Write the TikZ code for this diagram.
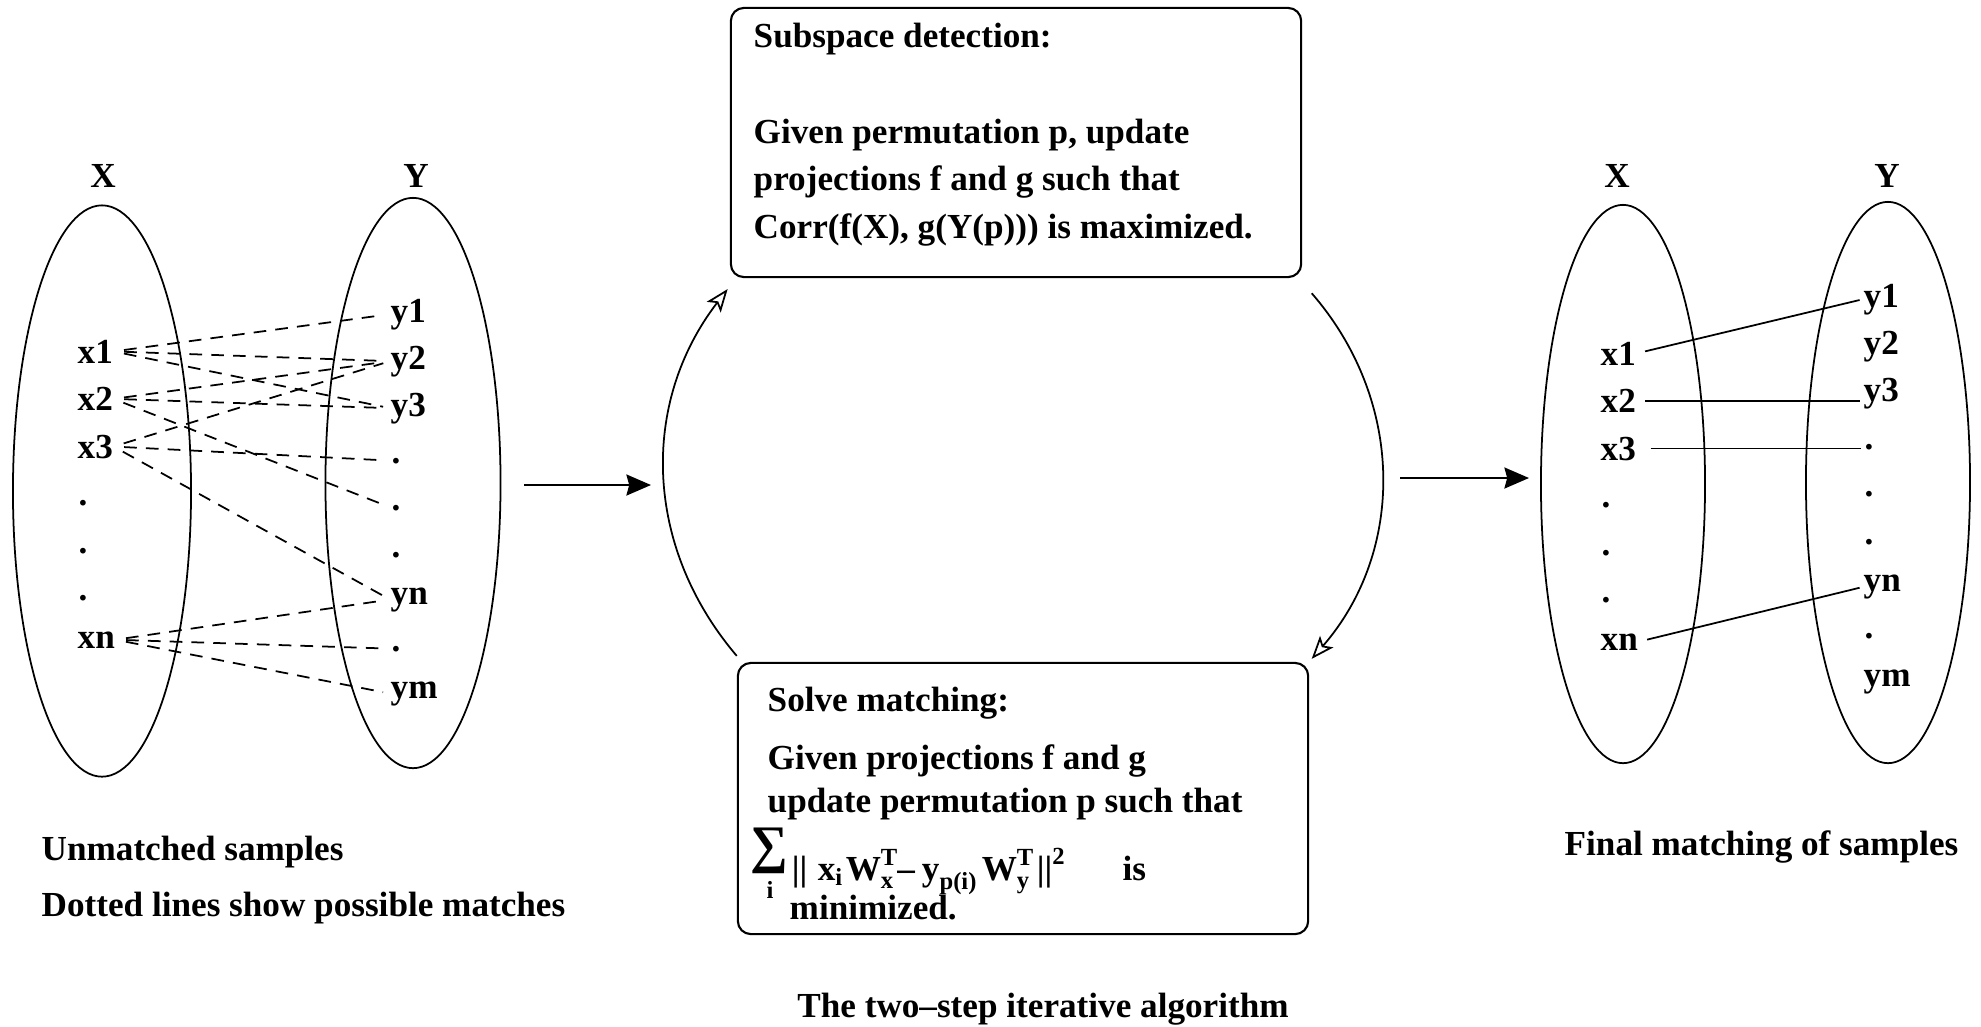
\documentclass[tikz,border=0pt]{standalone}
\usepackage{amsmath}
\usepackage{fontspec}
\setmainfont{Liberation Serif}
\usetikzlibrary{arrows.meta,shapes.geometric}
\begin{document}
\begin{tikzpicture}[x=0.01cm,y=0.01cm,
  txt/.style={font=\fontsize{10}{13.5}\selectfont\bfseries, inner sep=0pt},
  lbl/.style={txt, anchor=base west},
  hdr/.style={txt, anchor=base},
  setellipse/.style={draw, ellipse, line width=0.5pt, inner sep=0pt},
  roundbox/.style={draw, rounded corners=3.7pt, line width=0.6pt, inner sep=0pt},
  posline/.style={line width=0.5pt, dash pattern=on 3.6pt off 2.6pt, shorten <=3pt, shorten >=2pt},
  matchline/.style={line width=0.5pt, shorten <=2.5pt, shorten >=1pt},
  flowarrow/.style={line width=0.5pt, -{Stealth[length=7pt,width=6pt,inset=0.8pt]}},
  looparrow/.style={line width=0.5pt, -{Stealth[open,length=6.5pt,width=5pt,inset=1.5pt]}}
]
\useasboundingbox (0,0) rectangle (1981,-1026);

% ---------------- left panel: unmatched samples ----------------
\node[setellipse, minimum width=1.78cm, minimum height=5.71cm] (LX) at (102,-491) {};
\node[setellipse, minimum width=1.75cm, minimum height=5.70cm] (LY) at (413,-483) {};
\node[hdr] (LXh) at (103,-187) {X};
\node[hdr] (LYh) at (416,-187) {Y};
\node[lbl] (lx1) at (77,-363) {x1};
\node[lbl] (lx2) at (77,-410.5) {x2};
\node[lbl] (lx3) at (77,-458) {x3};
\node[lbl] (lxd1) at (78,-505.5) {.};
\node[lbl] (lxd2) at (78,-553) {.};
\node[lbl] (lxd3) at (78,-600.5) {.};
\node[lbl] (lxn) at (77,-648) {xn};
\node[lbl] (ly1) at (390,-322) {y1};
\node[lbl] (ly2) at (390,-369) {y2};
\node[lbl] (ly3) at (390,-416) {y3};
\node[lbl] (lyd4) at (391,-463) {.};
\node[lbl] (lyd5) at (391,-510) {.};
\node[lbl] (lyd6) at (391,-557) {.};
\node[lbl] (lyn) at (390,-604) {yn};
\node[lbl] (lyd7) at (391,-651) {.};
\node[lbl] (lym) at (390,-698) {ym};
\foreach \a/\b in {lx1/ly1, lx1/ly2, lx1/ly3, lx2/ly2, lx2/ly3, lx2/lyd5,
                   lx3/ly2, lx3/lyd4, lx3/lyn, lxn/lyn, lxn/lyd7, lxn/lym}
  \draw[posline] (\a.east) -- (\b.west);
\node[lbl] (cap1) at (41,-860) {Unmatched samples};
\node[lbl] (cap2) at (41,-916) {Dotted lines show possible matches};

% ---------------- right panel: final matching ----------------
\node[setellipse, minimum width=1.64cm, minimum height=5.58cm] (RX) at (1623,-484) {};
\node[setellipse, minimum width=1.64cm, minimum height=5.61cm] (RY) at (1888,-482.5) {};
\node[hdr] (RXh) at (1617,-187) {X};
\node[hdr] (RYh) at (1887,-187) {Y};
\node[lbl] (rx1) at (1600,-365) {x1};
\node[lbl] (rx2) at (1600,-412.5) {x2};
\node[lbl] (rx3) at (1600,-460) {x3};
\node[lbl] (rxd1) at (1601,-507.5) {.};
\node[lbl] (rxd2) at (1601,-555) {.};
\node[lbl] (rxd3) at (1601,-602.5) {.};
\node[lbl] (rxn) at (1600,-650) {xn};
\node[lbl] (ry1) at (1863,-307) {y1};
\node[lbl] (ry2) at (1863,-354.4) {y2};
\node[lbl] (ry3) at (1863,-401.8) {y3};
\node[lbl] (ryd4) at (1864,-449.2) {.};
\node[lbl] (ryd5) at (1864,-496.6) {.};
\node[lbl] (ryd6) at (1864,-544) {.};
\node[lbl] (ryn) at (1863,-591.4) {yn};
\node[lbl] (ryd7) at (1864,-638.8) {.};
\node[lbl] (rym) at (1863,-686.2) {ym};
\draw[matchline] (rx1.east) -- (ry1.west);
\draw[matchline] (rx2.east) -- (rx2.east -| ry3.west);
\draw[matchline, shorten <=4pt] (rx3.east) -- (rx3.east -| ryd4.west);
\draw[matchline] (rxn.east) -- (ryn.west);
\node[lbl] (cap3) at (1564,-855) {Final matching of samples};

% ---------------- middle: the two-step algorithm ----------------
\node[roundbox, minimum width=5.70cm, minimum height=2.69cm] (top) at (1016,-142.5) {};
\node[roundbox, minimum width=5.70cm, minimum height=2.71cm] (bot) at (1023,-798.5) {};

\node[lbl] (t1) at (753,-47) {Subspace detection:};
\node[lbl] (t2) at (753,-143) {Given permutation p, update};
\node[lbl] (t3) at (753,-190.5) {projections f and g such that};
\node[lbl] (t4) at (753,-238) {Corr(f(X), g(Y(p))) is maximized.};

\node[lbl] (b1) at (767,-711) {Solve matching:};
\node[lbl] (b2) at (767,-769) {Given projections f and g};
\node[lbl] (b3) at (767,-812) {update permutation p such that};
\node[lbl] (b4) at (750,-880) {$\raisebox{5pt}{\fontsize{15}{15}\selectfont ∑}\hspace{1pt}\text{||}\hspace{3pt}\text{x}_{\text{i}}\hspace{0.5pt}\text{W}^{\text{T}}_{\text{x}}\hspace{-0.5pt}\text{–}\hspace{2pt}\text{y}_{\text{p(i)}}\hspace{1pt}\text{W}^{\text{T}}_{\text{y}}\hspace{0.5pt}\text{||}^{\text{2}}\hspace{16pt}\text{is}$};
\node[txt, anchor=base, font=\fontsize{7}{7}\selectfont\bfseries] (b4i) at (770,-898) {i};
\node[lbl] (b5) at (789,-919) {minimized.};

\node[hdr] (cap4) at (1043,-1017) {The two–step iterative algorithm};

% loop arrows
\draw[looparrow] ([yshift=1.7pt]bot.north west) to[bend left=39] ([xshift=-0.6pt,yshift=-3.1pt]top.south west);
\draw[looparrow] ([xshift=2.7pt,yshift=-4.3pt]top.south east) to[bend left=41] ([xshift=0.7pt,yshift=0.85pt]bot.north east);

% flow arrows
\coordinate (inL) at (524,-485);
\coordinate (inR) at (651,-485);
\draw[flowarrow] (inL) -- (inR);
\coordinate (outL) at (1400,-478);
\coordinate (outR) at (1529,-478);
\draw[flowarrow] (outL) -- (outR);
\end{tikzpicture}
\end{document}
